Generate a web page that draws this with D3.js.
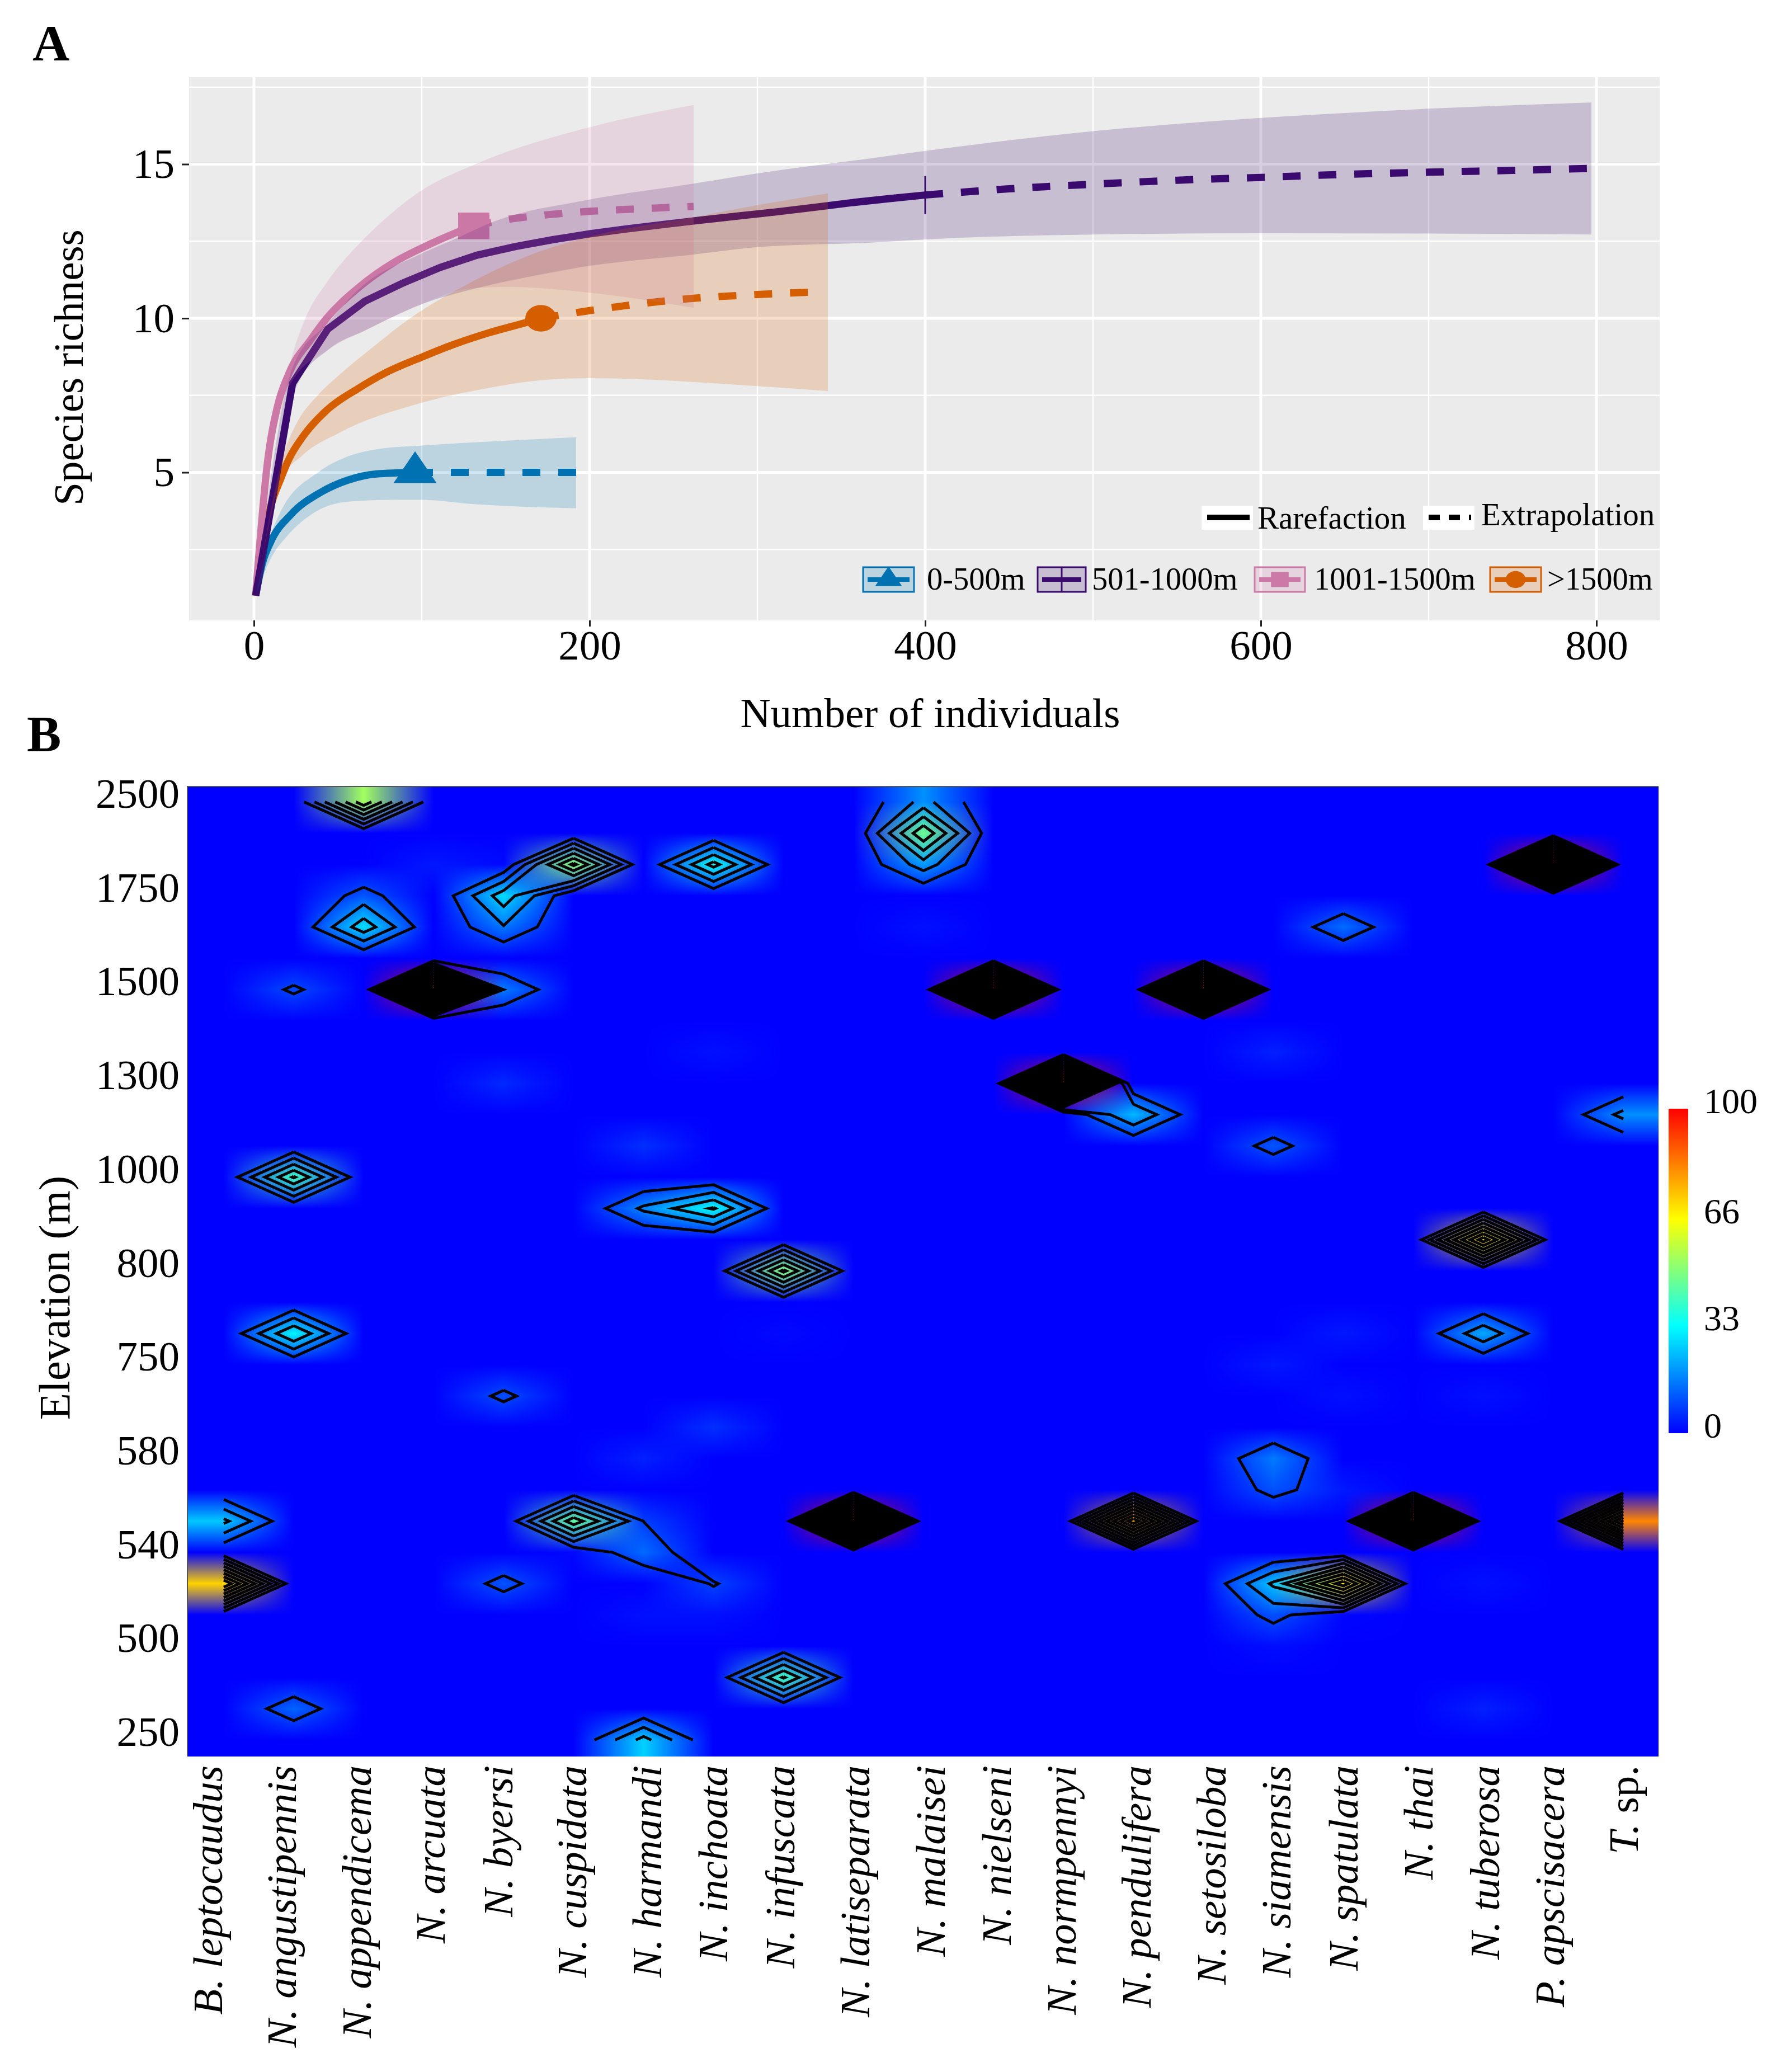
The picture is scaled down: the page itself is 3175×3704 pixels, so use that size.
<!DOCTYPE html>
<html>
<head>
<meta charset="utf-8">
<script src="https://cdn.jsdelivr.net/npm/d3@7"></script>
<style>
  body { margin: 0; background: #fff; }
  #fig { position: relative; width: 3175px; height: 3704px; }
  #fig canvas, #fig svg { position: absolute; left: 0; top: 0; }
  text { font-family: "Liberation Serif", serif; fill: #000; }
</style>
</head>
<body>
<div id="fig"></div>
<script>
// panel A - rarefaction curves
var lowM = [1, 5, 10, 22, 40, 56, 73, 96];
var lowS = [1, 2.05, 2.75, 3.63, 4.36, 4.75, 4.95, 5];
var lowExtM = [96, 192];
var lowExtS = [5, 5];
var lowBandM = [1, 10, 15, 39, 58, 73, 100, 169, 192];
var lowUpper = [1, 2.98, 3.63, 5.03, 5.56, 5.75, 5.87, 6.08, 6.14];
var lowLowerM = [1, 10, 20, 34, 56, 84, 100, 134, 169, 192];
var lowLower = [1, 2.2, 2.95, 3.63, 4.05, 4.11, 4.11, 3.96, 3.87, 3.84];

var midM = [1, 23, 44, 66, 89, 111, 133, 156, 178, 200, 222, 245, 267, 289, 311, 334, 356, 378, 400];
var midS = [1, 7.89, 9.65, 10.55, 11.15, 11.65, 12.05, 12.33, 12.55, 12.74, 12.9, 13.05, 13.19, 13.32, 13.45, 13.6, 13.75, 13.88, 14];
var midExtM = [400, 450, 500, 550, 600, 650, 700, 750, 795];
var midExtS = [14, 14.2, 14.35, 14.48, 14.57, 14.67, 14.74, 14.8, 14.86];
var midBandM = [1, 23, 45, 62, 100, 121, 141, 200, 262, 300, 369, 400, 500, 600, 700, 797];
var midUpper = [1, 8.4, 9.9, 10.92, 12.1, 12.6, 13.1, 13.85, 14.37, 14.7, 15.2, 15.43, 16.07, 16.5, 16.8, 17];
var midLowerM = [1, 25, 45, 66, 100, 133, 169, 200, 262, 300, 369, 400, 500, 600, 700, 797];
var midLower = [1, 7.74, 9.01, 9.6, 10.46, 10.98, 11.4, 11.7, 12.07, 12.31, 12.46, 12.56, 12.72, 12.76, 12.75, 12.72];

var highM = [1, 8, 14, 21, 34, 43, 62, 84, 100, 121, 131];
var highS = [1, 5.3, 7.14, 8.23, 9.32, 9.98, 10.98, 11.83, 12.28, 12.79, 13];
var highExtM = [131, 150, 175, 200, 225, 262];
var highExtS = [13, 13.2, 13.36, 13.47, 13.54, 13.63];
var highBandM = [1, 21, 31, 43, 64, 75, 100, 132, 200, 262];
var highUpper = [1, 8.4, 10.04, 11.13, 12.49, 13.07, 14.15, 15, 16.2, 16.92];
var highLowerM = [1, 21, 45, 66, 100, 126, 151, 200, 262];
var highLower = [1, 7.8, 9.01, 9.6, 10.46, 10.95, 11.02, 10.83, 10.34];

var topM = [1, 5, 10, 16, 21, 29, 43, 62, 79, 100, 118, 140, 162, 171];
var topS = [1, 2.6, 3.9, 4.8, 5.45, 6.15, 7, 7.72, 8.25, 8.74, 9.13, 9.53, 9.86, 10];
var topExtM = [171, 200, 230, 262, 300, 332];
var topExtS = [10, 10.25, 10.47, 10.65, 10.77, 10.85];
var topBandM = [1, 19, 26, 38, 51, 71, 93, 126, 164, 200, 262, 300, 342];
var topUpper = [1, 5.8, 6.65, 7.5, 8.17, 9.07, 10, 11.07, 12.04, 12.65, 13.28, 13.67, 14.05];
var topLowerM = [1, 16.5, 29, 51, 100, 140, 169, 200, 300, 342];
var topLower = [1, 4.78, 5.56, 6.29, 7.26, 7.74, 7.98, 8.06, 7.8, 7.64];

var xMajor = [0, 200, 400, 600, 800];
var xMinor = [100, 300, 500, 700];
var yMajor = [5, 10, 15];
var yMinor = [2.5, 7.5, 12.5, 17.5];
var rangeLabels = ['0-500m', '501-1000m', '1001-1500m', '>1500m'];
var methodLabels = ['Rarefaction', 'Extrapolation'];

// panel B - species by elevation
var species = ['B. leptocaudus', 'N. angustipennis', 'N. appendicema', 'N. arcuata', 'N. byersi', 'N. cuspidata',
  'N. harmandi', 'N. inchoata', 'N. infuscata', 'N. latiseparata', 'N. malaisei', 'N. nielseni', 'N. normpennyi',
  'N. pendulifera', 'N. setosiloba', 'N. siamensis', 'N. spatulata', 'N. thai', 'N. tuberosa', 'P. apscisacera', 'T. sp.'];
var elevations = ['2500', '1750', '1500', '1300', '1000', '800', '750', '580', '540', '500', '250'];
var colorTicks = [0, 33, 66, 100];
var nRows = 31;
var contourLevels = [8, 16, 24, 32, 40, 48, 56, 64, 72, 80, 88, 96];
// non zero cells only: [species index, row, value]
var cells = [
  [2, 0, 54], [10, 0, 18.7], [10, 1, 47], [5, 2, 50], [7, 2, 35], [19, 2, 100], [3, 2, 3], [4, 2, 1],
  [2, 3, 11], [4, 3, 28.6], [2, 4, 29], [4, 4, 15.4], [16, 4, 14], [10, 2, 20], [10, 4, 2],
  [1, 6, 9.3], [3, 6, 100], [4, 6, 15.8], [11, 6, 100], [14, 6, 100],
  [15, 8, 4], [7, 8, 2], [4, 9, 5], [12, 9, 100], [13, 10, 24], [20, 10, 18.5], [6, 11, 6], [15, 11, 11],
  [1, 12, 41], [6, 13, 17.5], [7, 13, 33], [18, 14, 69], [8, 15, 50], [1, 17, 31.9], [18, 17, 21.8],
  [16, 17, 3], [8, 17, 1], [15, 18, 3], [4, 19, 9.8], [16, 19, 2], [18, 19, 2], [7, 20, 6], [6, 21, 4],
  [15, 21, 15.9], [15, 22, 10.5], [16, 22, 3],
  [0, 23, 26], [5, 23, 45], [6, 23, 7.9], [9, 23, 100], [13, 23, 78], [17, 23, 100], [20, 23, 82],
  [5, 24, 0.8], [6, 24, 13.7], [0, 25, 72], [4, 25, 10.8], [7, 25, 8.6], [15, 25, 25.5], [16, 25, 69], [18, 25, 2],
  [15, 26, 10.4], [16, 26, 0.6], [6, 26, 2], [7, 26, 2], [15, 27, 1.5], [8, 28, 41], [1, 29, 13], [18, 29, 4], [6, 30, 27]
];

var svg = d3.select('#fig').append('svg').attr('width', 3175).attr('height', 3704);

function label(txt, x, y, size, anchor) {
  return svg.append('text').attr('x', x).attr('y', y).attr('font-size', size)
    .attr('text-anchor', anchor || 'start').text(txt);
}

// ---------- panel A ----------
var aLeft = 338, aRight = 2967, aTop = 138, aBottom = 1109;
var x = d3.scaleLinear().domain([0, 800]).range([454, 2854]);
var y = d3.scaleLinear().domain([0, 15]).range([1120, 293.5]);

label('A', 58, 108, 92).attr('font-weight', 'bold');
svg.append('rect').attr('x', aLeft).attr('y', aTop).attr('width', aRight - aLeft).attr('height', aBottom - aTop).attr('fill', '#ebebeb');

function vGrid(vals, w) {
  svg.append('g').selectAll('line').data(vals).enter().append('line')
    .attr('x1', x).attr('x2', x).attr('y1', aTop).attr('y2', aBottom)
    .attr('stroke', '#fff').attr('stroke-width', w);
}
function hGrid(vals, w) {
  svg.append('g').selectAll('line').data(vals).enter().append('line')
    .attr('y1', y).attr('y2', y).attr('x1', aLeft).attr('x2', aRight)
    .attr('stroke', '#fff').attr('stroke-width', w);
}
vGrid(xMinor, 2.5); hGrid(yMinor, 2.5);
vGrid(xMajor, 5); hGrid(yMajor, 5);

var groups = [
  { name: rangeLabels[0], color: '#0072B2', shape: d3.symbolTriangle, size: 2570, m: lowM, s: lowS, em: lowExtM, es: lowExtS, bm: lowBandM, up: lowUpper, lm: lowLowerM, lo: lowLower },
  { name: rangeLabels[1], color: '#3B0A6E', shape: null, size: 0, m: midM, s: midS, em: midExtM, es: midExtS, bm: midBandM, up: midUpper, lm: midLowerM, lo: midLower },
  { name: rangeLabels[2], color: '#CC79A7', shape: d3.symbolSquare, size: 3136, m: highM, s: highS, em: highExtM, es: highExtS, bm: highBandM, up: highUpper, lm: highLowerM, lo: highLower },
  { name: rangeLabels[3], color: '#D55E00', shape: d3.symbolCircle, size: 2460, m: topM, s: topS, em: topExtM, es: topExtS, bm: topBandM, up: topUpper, lm: topLowerM, lo: topLower }
];

var line = d3.line().x(function (d) { return x(d[0]); }).y(function (d) { return y(d[1]); }).curve(d3.curveMonotoneX);
var rawLine = d3.line().x(function (d) { return x(d[0]); }).y(function (d) { return y(d[1]); });

function drawMarker(g, sel, px, py, size) {
  if (g.shape) {
    // the markers are a little squashed in the original
    sel.append('path').attr('d', d3.symbol().type(g.shape).size(size)).attr('fill', g.color)
      .attr('transform', 'translate(' + px + ',' + py + ') scale(1,0.85)');
  } else {
    sel.append('line').attr('x1', px).attr('x2', px).attr('y1', py - size).attr('y2', py + size)
      .attr('stroke', g.color).attr('stroke-width', 3);
  }
}

// lines and markers first, the ribbons go over them
[groups[3], groups[0], groups[2], groups[1]].forEach(function (g) {
  var last = g.m.length - 1;
  svg.append('path').attr('d', line(d3.zip(g.em, g.es))).attr('fill', 'none').attr('stroke', g.color)
    .attr('stroke-width', 13).attr('stroke-dasharray', '32,32');
  // the purple curve has coarse knots at the start, keep them visible
  svg.append('path').attr('d', (g.shape ? line : rawLine)(d3.zip(g.m, g.s))).attr('fill', 'none').attr('stroke', g.color)
    .attr('stroke-width', 13).attr('stroke-linejoin', 'miter');
  drawMarker(g, svg, x(g.m[last]), y(g.s[last]), g.shape ? g.size : 34);
});
// ribbon = upper edge forward, lower edge back
groups.forEach(function (g) {
  var upper = line(d3.zip(g.bm, g.up));
  var lower = line(d3.zip(g.lm, g.lo).reverse());
  svg.append('path').attr('d', upper + 'L' + lower.slice(1) + 'Z').attr('fill', g.color).attr('fill-opacity', 0.2);
});

var xAxis = d3.axisBottom(x).tickValues(xMajor).tickSize(11).tickPadding(6);
var yAxis = d3.axisLeft(y).tickValues(yMajor).tickSize(13).tickPadding(13);
[svg.append('g').attr('transform', 'translate(0,' + aBottom + ')').call(xAxis),
 svg.append('g').attr('transform', 'translate(' + aLeft + ',0)').call(yAxis)].forEach(function (ax) {
  ax.select('.domain').remove();
  ax.selectAll('line').attr('stroke', '#222').attr('stroke-width', 3);
  ax.selectAll('text').attr('font-size', 75).attr('font-family', '"Liberation Serif", serif').attr('fill', '#000');
});
label('Number of individuals', 1663, 1300, 75, 'middle');
label('Species richness', 0, 0, 75, 'middle').attr('transform', 'translate(148,657) rotate(-90)');

// method legend
var methodKeys = [[2148, 2248, 927, null], [2544, 2648, 921, '20,16']];
methodLabels.forEach(function (t, i) {
  var k = methodKeys[i];
  svg.append('rect').attr('x', k[0]).attr('y', 904).attr('width', 92).attr('height', 43).attr('fill', '#fff');
  svg.append('line').attr('x1', k[0] + 10).attr('x2', k[0] + 86).attr('y1', 925).attr('y2', 925)
    .attr('stroke', '#000').attr('stroke-width', 10).attr('stroke-dasharray', k[3]);
  label(t, k[1], k[2] + 18, 57);
});

// group legend
var keyX = [1543, 1855, 2243, 2664], keyW = [91, 86, 90, 91], keyText = [1657, 1952, 2349, 2766];
groups.forEach(function (g, i) {
  svg.append('rect').attr('x', keyX[i]).attr('y', 1014).attr('width', keyW[i]).attr('height', 44)
    .attr('fill', g.color).attr('fill-opacity', 0.2).attr('stroke', g.color).attr('stroke-width', 3);
  svg.append('line').attr('x1', keyX[i] + 8).attr('x2', keyX[i] + keyW[i] - 8).attr('y1', 1036).attr('y2', 1036)
    .attr('stroke', g.color).attr('stroke-width', 8);
  drawMarker(g, svg, keyX[i] + keyW[i] / 2, 1036, g.shape ? 1000 : 22);
  label(g.name, keyText[i], 1054, 56.5);
});

// ---------- panel B ----------
var bLeft = 335, bRight = 2965, bTop = 1406, bBottom = 3140;
var gx = d3.scaleLinear().domain([0, species.length - 1]).range([400, 2902]);
var gy = d3.scaleLinear().domain([0, nRows - 1]).range([1433.6, 3110.5]);
var color = d3.scaleLinear().domain([0, 33, 66, 100]).range(['#0000ff', '#00ffff', '#ffff00', '#ff0000']);

var grid = d3.range(nRows).map(function () { return d3.range(species.length).map(function () { return 0; }); });
cells.forEach(function (c) { grid[c[1]][c[0]] = c[2]; });

// raster: each cell gets its colour, the image smoothing then blends the colours (not the values)
var canvas = d3.select('#fig').insert('canvas', 'svg').attr('width', 3175).attr('height', 3704).node();
var ctx = canvas.getContext('2d');
var cellRgb = grid.map(function (row) { return row.map(function (v) { return d3.rgb(color(v)); }); });
var w = bRight - bLeft, h = bBottom - bTop;
var img = ctx.createImageData(w, h);
for (var py = 0; py < h; py++) {
  var fy = Math.max(0, Math.min(nRows - 1, gy.invert(bTop + py + 0.5)));
  var r0 = Math.min(nRows - 2, Math.floor(fy)), ty = fy - r0;
  for (var px = 0; px < w; px++) {
    var fx = Math.max(0, Math.min(species.length - 1, gx.invert(bLeft + px + 0.5)));
    var c0 = Math.min(species.length - 2, Math.floor(fx)), tx = fx - c0;
    var a = cellRgb[r0][c0], b = cellRgb[r0][c0 + 1], c = cellRgb[r0 + 1][c0], d = cellRgb[r0 + 1][c0 + 1];
    var wa = (1 - tx) * (1 - ty), wb = tx * (1 - ty), wc = (1 - tx) * ty, wd = tx * ty;
    var o = (py * w + px) * 4;
    img.data[o] = a.r * wa + b.r * wb + c.r * wc + d.r * wd;
    img.data[o + 1] = a.g * wa + b.g * wb + c.g * wc + d.g * wd;
    img.data[o + 2] = a.b * wa + b.b * wb + c.b * wc + d.b * wd;
    img.data[o + 3] = 255;
  }
}
ctx.putImageData(img, bLeft, bTop);
svg.append('path').attr('d', 'M' + bLeft + ',' + bBottom + 'V' + bTop + 'H' + bRight)
  .attr('fill', 'none').attr('stroke', '#555').attr('stroke-width', 2);

// marching squares, open at the grid edge like the original, diagonal saddles stay linked
function isolines(level) {
  var nodes = new Map();
  function hit(key, a, b, px0, py0, px1, py1) {
    var t = (level - a) / (b - a);
    if (!nodes.has(key)) nodes.set(key, { p: [px0 + (px1 - px0) * t, py0 + (py1 - py0) * t], links: [] });
    return key;
  }
  function link(a, b) { nodes.get(a).links.push(b); nodes.get(b).links.push(a); }
  for (var r = 0; r < nRows - 1; r++) {
    for (var c = 0; c < species.length - 1; c++) {
      var tl = grid[r][c], tr = grid[r][c + 1], br = grid[r + 1][c + 1], bl = grid[r + 1][c];
      var a = tl > level, b = tr > level, d = br > level, e = bl > level;
      var T = a !== b ? hit('h' + r + '_' + c, tl, tr, c, r, c + 1, r) : null;
      var R = b !== d ? hit('v' + r + '_' + (c + 1), tr, br, c + 1, r, c + 1, r + 1) : null;
      var B = e !== d ? hit('h' + (r + 1) + '_' + c, bl, br, c, r + 1, c + 1, r + 1) : null;
      var L = a !== e ? hit('v' + r + '_' + c, tl, bl, c, r, c, r + 1) : null;
      var ends = [T, R, B, L].filter(function (k) { return k; });
      if (ends.length === 2) link(ends[0], ends[1]);
      else if (ends.length === 4) {
        if (a) { link(T, R); link(B, L); } else { link(T, L); link(R, B); }
      }
    }
  }
  var seen = new Set(), lines = [];
  function walk(start) {
    var pts = [nodes.get(start).p], prev = null, cur = start;
    seen.add(start);
    while (true) {
      var next = nodes.get(cur).links.filter(function (k) { return k !== prev && !seen.has(k); })[0];
      if (!next) break;
      pts.push(nodes.get(next).p); seen.add(next); prev = cur; cur = next;
    }
    var closed = nodes.get(cur).links.indexOf(start) >= 0 && pts.length > 2;
    if (closed) pts.push(pts[0]);
    lines.push(pts);
  }
  nodes.forEach(function (n, k) { if (n.links.length === 1 && !seen.has(k)) walk(k); });
  nodes.forEach(function (n, k) { if (!seen.has(k)) walk(k); });
  return lines;
}
var isoLine = d3.line().x(function (d) { return gx(d[0]); }).y(function (d) { return gy(d[1]); });
contourLevels.forEach(function (level) {
  svg.append('g').selectAll('path').data(isolines(level)).enter().append('path')
    .attr('d', isoLine).attr('fill', 'none').attr('stroke', '#000').attr('stroke-width', 5)
    .attr('stroke-linejoin', 'miter').attr('stroke-miterlimit', 10);
});

label('B', 48, 1343, 92).attr('font-weight', 'bold');

elevations.forEach(function (t, i) {
  label(t, 321, gy(i * 3) - 15, 75, 'end').attr('dy', '0.34em');
});
label('Elevation (m)', 0, 0, 79, 'middle').attr('transform', 'translate(124,2320) rotate(-90)');

// the species labels are not evenly spaced in the original
var labelX = d3.scaleLinear().domain([0, species.length - 1]).range([397, 2928]);
var labelNudge = [0, 5.5, 13, 18, 13, 18, 26, 17, 11, 18, 26.5, 18, 7.5, 15, 22, 12, 5, 12.5, 5, -5.5, 0];
species.forEach(function (t, i) {
  var parts = t.split(' ');
  var tx = svg.append('text').attr('font-size', 75).attr('text-anchor', 'end')
    .attr('transform', 'translate(' + (labelX(i) + labelNudge[i]) + ',3156) rotate(-90)');
  if (t === 'T. sp.') {
    tx.append('tspan').attr('font-style', 'italic').text(parts[0] + ' ');
    tx.append('tspan').text(parts[1]);
  } else {
    tx.attr('font-style', 'italic').text(t);
  }
});

// colour bar
var barY = d3.scaleLinear().domain([0, 100]).range([2562, 1982]);
var defs = svg.append('defs');
var grad = defs.append('linearGradient').attr('id', 'bar').attr('x1', 0).attr('x2', 0).attr('y1', 1).attr('y2', 0);
grad.selectAll('stop').data(colorTicks).enter().append('stop')
  .attr('offset', function (d) { return d / 100; }).attr('stop-color', function (d) { return color(d); });
svg.append('rect').attr('x', 2983).attr('y', barY(100)).attr('width', 35).attr('height', barY(0) - barY(100)).attr('fill', 'url(#bar)');
colorTicks.forEach(function (v) {
  label(v, 3046, barY(v) - 14, 64).attr('dy', '0.34em');
});
</script>
</body>
</html>
